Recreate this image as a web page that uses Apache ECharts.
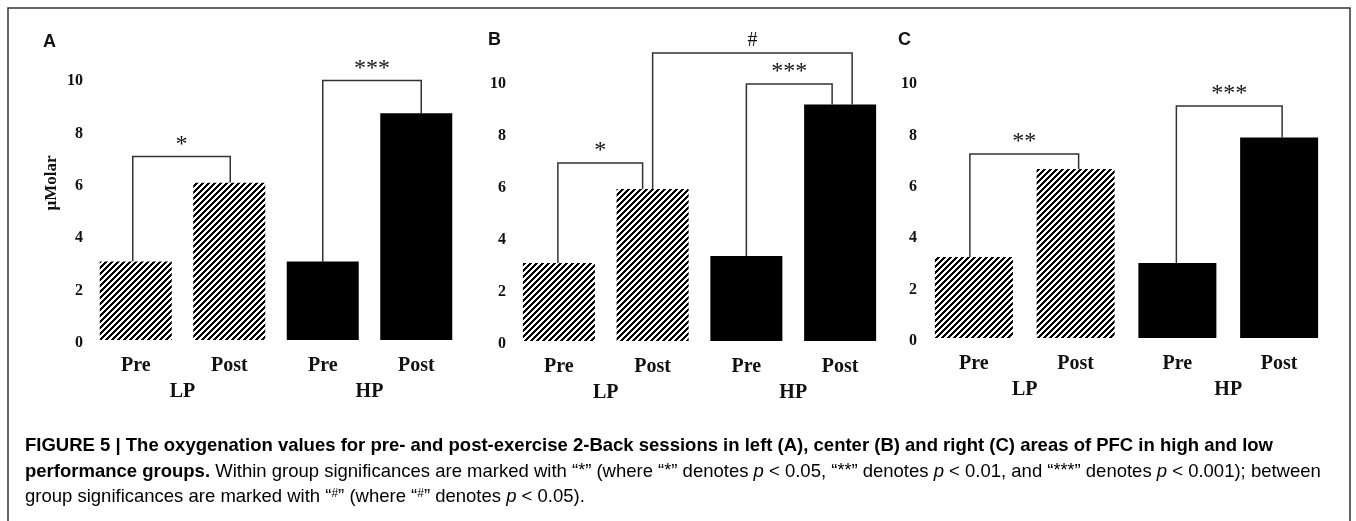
<!DOCTYPE html>
<html>
<head>
<meta charset="utf-8">
<title>Figure 5 - oxygenation values</title>
<script src="https://cdn.jsdelivr.net/npm/echarts@6/dist/echarts.min.js"></script>
<style>
    html, body { margin: 0; padding: 0; background: #fff; }
    #chart { width: 1356px; height: 521px; }
</style>
</head>
<body>
<div id="chart"></div>
<script>
// categories
const sessions = ['Pre', 'Post', 'Pre', 'Post'];
const groups = ['LP', 'HP'];
const panelNames = ['A', 'B', 'C'];
const axisName = 'μMolar';

// oxygenation values
const leftValues = [3.0, 6.0, 3.0, 8.65];
const centerValues = [3.0, 5.85, 3.27, 9.1];
const rightValues = [3.15, 6.58, 2.92, 7.8];

// significance brackets: [first bar, second bar, bracket height, mark]
const leftBrackets = [[0, 1, 7.0, '*'], [2, 3, 9.9, '***']];
const centerBrackets = [[0, 1, 6.85, '*'], [1, 3, 11.08, '#'], [2, 3, 9.88, '***']];
const rightBrackets = [[0, 1, 7.16, '**'], [2, 3, 9.03, '***']];

// y axis ticks
const yMin = 0;
const yMax = 10;
const yStep = 2;

const SERIF = '"Liberation Serif", "Times New Roman", serif';
const SANS = '"Liberation Sans", Arial, sans-serif';

// layout of the three panels
const panels = [
    {values: leftValues, brackets: leftBrackets, grid: {left: 89, top: 78, width: 374, height: 262},
        barWidth: 72, legShift: [[-3, 1], [0, 5]], letter: [43, 42]},
    {values: centerValues, brackets: centerBrackets, grid: {left: 512, top: 81, width: 375, height: 260},
        barWidth: 72, legShift: [[-1, -10], [0, 12], [0, -8]], letter: [488, 40]},
    {values: rightValues, brackets: rightBrackets, grid: {left: 923, top: 81, width: 407, height: 257},
        barWidth: 78, legShift: [[-4, 3], [-1, 3]], letter: [898, 40]},
];

// crisp "////" hatch tile, drawn pixel by pixel
function makeHatch() {
    const size = 6;
    const c = document.createElement('canvas');
    c.width = size;
    c.height = size;
    const ctx = c.getContext('2d');
    ctx.fillStyle = '#fff';
    ctx.fillRect(0, 0, size, size);
    ctx.fillStyle = '#000';
    for (let y = 0; y < size; y++) {
        for (let x = 0; x < size; x++) {
            if ((x + y) % size < 3) {
                ctx.fillRect(x, y, 1, 1);
            }
        }
    }
    return c;
}

function bracketRenderer(p) {
    return (params, api) => {
        const [a, b, h, mark] = p.brackets[params.dataIndex];
        const shift = p.legShift[params.dataIndex];
        const top = api.coord([a, h])[1];
        const x0 = api.coord([a, 0])[0] + shift[0];
        const x1 = api.coord([b, 0])[0] + shift[1];
        const y0 = api.coord([a, p.values[a]])[1];
        const y1 = api.coord([b, p.values[b]])[1];
        return {
            type: 'group',
            children: [
                {
                    type: 'polyline',
                    shape: {points: [[x0, y0], [x0, top], [x1, top], [x1, y1]]},
                    style: {stroke: '#333', lineWidth: 1.5, fill: null},
                },
                {
                    type: 'text',
                    style: {
                        text: mark,
                        x: (x0 + x1) / 2,
                        y: top - 12,
                        align: 'center',
                        verticalAlign: 'middle',
                        fontFamily: SERIF,
                        fontSize: mark === '#' ? 20 : 24,
                        fill: '#111',
                    },
                },
            ],
        };
    };
}

function getCaption() {
    const rich = {
        b: {fontFamily: SANS, fontWeight: 'bold', fontSize: 18.5, color: '#231f20'},
        r: {fontFamily: SANS, fontSize: 18.5, color: '#4d4d4d'},
        i: {fontFamily: SANS, fontSize: 18.5, fontStyle: 'italic', color: '#4d4d4d'},
        a: {fontFamily: SANS, fontSize: 18, color: '#4d4d4d', verticalAlign: 'top'},
        s: {fontFamily: SANS, fontSize: 12, color: '#4d4d4d', verticalAlign: 'top'},
    };
    const lines = [
        '{b|FIGURE 5 | The oxygenation values for pre- and post-exercise 2-Back sessions in left (A), center (B) and right (C) areas of PFC in high and low}',
        '{b|performance groups.}{r| Within group significances are marked with “}{a|*}{r|” (where “}{a|*}{r|” denotes }{i|p}{r| < 0.05, “}{a|**}{r|” denotes }{i|p}{r| < 0.01, and “}{a|***}{r|” denotes }{i|p}{r| < 0.001); between}',
        '{r|group significances are marked with “}{s|#}{r|” (where “}{s|#}{r|” denotes }{i|p}{r| < 0.05).}',
    ];
    return lines.map((text, k) => ({
        type: 'text',
        x: 25,
        y: 446 + k * 25.5,
        style: {text: text, rich: rich, verticalAlign: 'middle', align: 'left'},
    }));
}

function getOption() {
    const hatch = {image: makeHatch(), repeat: 'repeat'};
    const grid = [];
    const xAxis = [];
    const yAxis = [];
    const series = [];
    const graphic = [];

    const labelFont = {fontFamily: SERIF, fontWeight: 'bold', color: '#111'};

    panels.forEach((p, i) => {
        grid.push(p.grid);
        xAxis.push({
            type: 'category',
            gridIndex: i,
            data: sessions,
            axisLine: {show: false},
            axisTick: {show: false},
            axisLabel: {...labelFont, fontSize: 20, margin: 16, lineHeight: 20},
        });
        xAxis.push({
            type: 'category',
            gridIndex: i,
            data: groups,
            position: 'bottom',
            offset: 26,
            axisLine: {show: false},
            axisTick: {show: false},
            axisLabel: {...labelFont, fontSize: 20, margin: 16, lineHeight: 20},
        });
        yAxis.push({
            type: 'value',
            gridIndex: i,
            min: yMin,
            max: yMax,
            interval: yStep,
            axisLine: {show: false},
            axisTick: {show: false},
            splitLine: {show: false},
            axisLabel: {...labelFont, fontSize: 16, margin: 6, verticalAlign: 'top', lineHeight: 6},
            name: i === 0 ? axisName : '',
            nameLocation: 'middle',
            nameRotate: 90,
            nameGap: 29,
            nameTextStyle: {...labelFont, fontSize: 17, lineHeight: 17, padding: [0, 0, 0, 52]},
        });
        series.push({
            type: 'bar',
            xAxisIndex: i * 2,
            yAxisIndex: i,
            barWidth: p.barWidth,
            data: p.values.map((v, k) => ({value: v, itemStyle: {color: k < 2 ? hatch : '#000'}})),
        });
        series.push({
            type: 'custom',
            xAxisIndex: i * 2,
            yAxisIndex: i,
            clip: false,
            data: p.brackets.map(b => [b[0], b[2]]),
            renderItem: bracketRenderer(p),
        });
        graphic.push({
            type: 'text',
            x: p.letter[0],
            y: p.letter[1],
            style: {text: panelNames[i], fontFamily: SANS, fontWeight: 'bold', fontSize: 18,
                fill: '#111', verticalAlign: 'middle'},
        });
    });

    // outer frame of the figure
    graphic.push({
        type: 'rect',
        shape: {x: 8, y: 8, width: 1342, height: 540},
        style: {fill: null, stroke: '#333', lineWidth: 1.5},
        silent: true,
    });

    return {
        animation: false,
        backgroundColor: '#fff',
        grid: grid,
        xAxis: xAxis,
        yAxis: yAxis,
        series: series,
        graphic: graphic.concat(getCaption()),
    };
}

function main() {
    document.addEventListener('DOMContentLoaded', () => {
        const chart = echarts.init(document.getElementById('chart'));
        chart.setOption(getOption());
    });
}

main();
</script>
</body>
</html>
